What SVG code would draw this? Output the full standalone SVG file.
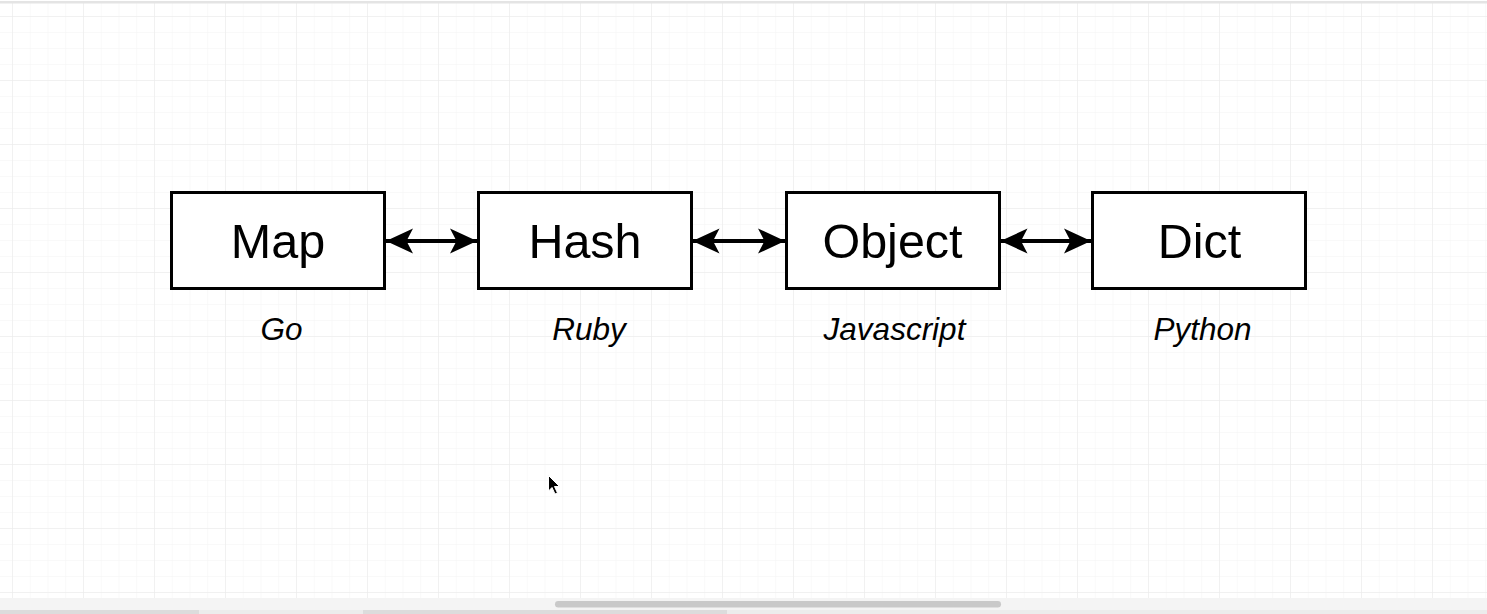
<svg xmlns="http://www.w3.org/2000/svg" width="1487" height="614" viewBox="0 0 1487 614">
  <defs>
    <pattern id="minor" x="12" y="16" width="17.75" height="16" patternUnits="userSpaceOnUse">
      <path d="M0 0V16M0 0H17.75" fill="none" stroke="#f4f4f4" stroke-width="1"/>
    </pattern>
    <pattern id="major" x="12" y="16" width="71" height="64" patternUnits="userSpaceOnUse">
      <path d="M0 0V64M0 0H71" fill="none" stroke="#e9e9e9" stroke-width="1"/>
    </pattern>
    <marker id="head" viewBox="0 0 27 26" refX="27" refY="13" markerWidth="27" markerHeight="26" markerUnits="userSpaceOnUse" orient="auto-start-reverse">
      <path d="M27 13L0 0.5L6.5 13L0 25.5Z" fill="#000"/>
    </marker>
  </defs>
  <style>
    .box { fill: #fff; stroke: #000; stroke-width: 3; }
    .name { font-family: "Liberation Sans", Arial, Helvetica, sans-serif; font-size: 48.5px; fill: #000; text-anchor: middle; }
    .lang { font-family: "Liberation Sans", Arial, Helvetica, sans-serif; font-size: 31.5px; font-style: italic; fill: #000; text-anchor: middle; }
    .conn { stroke: #000; stroke-width: 4; fill: none; marker-start: url(#head); marker-end: url(#head); }
  </style>

  <rect width="1487" height="614" fill="#fff"/>
  <rect x="0" y="3" width="1487" height="595" fill="url(#minor)"/>
  <rect x="0" y="3" width="1487" height="595" fill="url(#major)"/>
  <rect x="0" y="1" width="1487" height="2.5" fill="#e4e4e4"/>

  <g id="connectors">
    <path class="conn" d="M386 241H477"/>
    <path class="conn" d="M692.5 241H785"/>
    <path class="conn" d="M1000.5 241H1091"/>
  </g>

  <g id="node-map">
    <rect class="box" x="171.5" y="192.5" width="213" height="96"/>
    <text class="name" x="278" y="258">Map</text>
    <text class="lang" x="281.5" y="340">Go</text>
  </g>
  <g id="node-hash">
    <rect class="box" x="478.5" y="192.5" width="213" height="96"/>
    <text class="name" x="585" y="258">Hash</text>
    <text class="lang" x="589" y="340">Ruby</text>
  </g>
  <g id="node-object">
    <rect class="box" x="786.5" y="192.5" width="213" height="96"/>
    <text class="name" x="892.5" y="258">Object</text>
    <text class="lang" x="894.5" y="340">Javascript</text>
  </g>
  <g id="node-dict">
    <rect class="box" x="1092.5" y="192.5" width="213" height="96"/>
    <text class="name" x="1199.5" y="258">Dict</text>
    <text class="lang" x="1202.5" y="340">Python</text>
  </g>

  <path d="M548.5 475.5V491L552 487.5L555 494L557.5 493L554.5 486.5H559.5Z" fill="#000" stroke="#fff" stroke-width="1"/>

  <rect x="0" y="598" width="1487" height="12" fill="#f4f4f4"/>
  <rect x="555" y="601" width="446" height="6.5" rx="3.25" fill="#c9c9c9"/>
  <rect x="0" y="610" width="1487" height="4" fill="#ececec"/>
  <rect x="0" y="610" width="199" height="4" fill="#dcdcdc"/>
  <rect x="363" y="610" width="364" height="4" fill="#dcdcdc"/>
</svg>
